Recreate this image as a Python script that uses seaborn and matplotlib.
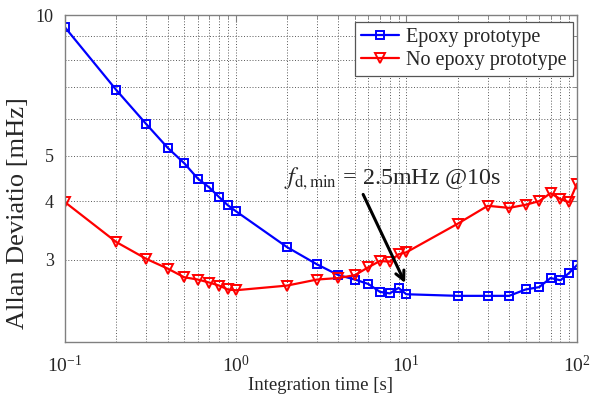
import numpy as np
import pandas as pd
import matplotlib
matplotlib.use("Agg")
import matplotlib.pyplot as plt
from matplotlib.ticker import FixedLocator, NullFormatter, FixedFormatter, LogLocator
import seaborn as sns

# ---- data ----
tau = [0.1, 0.2, 0.3, 0.4, 0.5, 0.6, 0.7, 0.8, 0.9, 1,
       2, 3, 4, 5, 6, 7, 8, 9, 10,
       20, 30, 40, 50, 60, 70, 80, 90, 100]
epoxy = [9.41, 6.91, 5.84, 5.20, 4.82, 4.47, 4.28, 4.08, 3.92, 3.81,
         3.19, 2.93, 2.78, 2.72, 2.66, 2.56, 2.54, 2.61, 2.53,
         2.51, 2.51, 2.51, 2.59, 2.62, 2.74, 2.71, 2.81, 2.92]
no_epoxy = [3.98, 3.27, 3.01, 2.87, 2.75, 2.72, 2.68, 2.64, 2.59, 2.58,
            2.64, 2.72, 2.74, 2.78, 2.89, 2.98, 2.97, 3.08, 3.11,
            3.58, 3.91, 3.87, 3.93, 4.00, 4.16, 4.04, 3.98, 4.36]
series_names = ["Epoxy prototype", "No epoxy prototype"]
ytick_vals = [3, 4, 5, 10]
ytick_labels = ["3", "4", "5", "10"]
annot_text = r"$f_{\mathrm{d,min}}$ = 2.5mHz @10s"
annot_tip = (10, 2.64)

sns.set_style("white")
plt.rcParams["font.family"] = ["Liberation Serif", "DejaVu Serif"]
plt.rcParams["mathtext.fontset"] = "stix"

fig = plt.figure(figsize=(5.91, 3.94), dpi=100)
ax = fig.add_axes([65 / 591, 1 - 342 / 394, (577 - 65) / 591, (342 - 15) / 394])

df_a = pd.DataFrame({"tau": tau, "dev": epoxy})
df_b = pd.DataFrame({"tau": tau, "dev": no_epoxy})

sns.lineplot(data=df_a, x="tau", y="dev", ax=ax, color="#0000ff", marker="s",
             markersize=6, mfc="none", mec="#0000ff", mew=1.4, lw=1.6,
             label=series_names[0], legend=False)
sns.lineplot(data=df_b, x="tau", y="dev", ax=ax, color="#ff0000", marker="v",
             markersize=7, mfc="none", mec="#ff0000", mew=1.4, lw=1.6,
             label=series_names[1], legend=False)

ax.set_xscale("log")
ax.set_yscale("log")
ax.set_xlim(0.1, 100)
ax.set_ylim(2, 10)

ax.xaxis.set_major_locator(LogLocator(base=10, numticks=10))
ax.xaxis.set_minor_locator(LogLocator(base=10, subs=np.arange(2, 10), numticks=20))
ax.xaxis.set_minor_formatter(NullFormatter())

ax.yaxis.set_major_locator(FixedLocator(ytick_vals))
ax.yaxis.set_major_formatter(FixedFormatter(ytick_labels))
ax.yaxis.set_minor_locator(FixedLocator([2, 6, 7, 8, 9]))
ax.yaxis.set_minor_formatter(NullFormatter())

ax.grid(True, which="both", linestyle=(0, (1.2, 2.2)), color="#444444", linewidth=0.6)
ax.set_axisbelow(True)

for s in ax.spines.values():
    s.set_visible(True)
    s.set_color("#808080")
    s.set_linewidth(1.0)

ax.tick_params(which="both", direction="in", top=True, right=True, color="#808080")
ax.tick_params(which="major", length=5)
ax.tick_params(which="minor", length=3)
ax.tick_params(axis="x", labelsize=14, pad=9)
ax.tick_params(axis="y", labelsize=13, pad=8)

ax.set_xlabel("Integration time [s]", fontsize=13.5, labelpad=1)
ax.set_ylabel("Allan Deviatio [mHz]", fontsize=19)
ax.yaxis.set_label_coords(-0.07, 0.394)

leg = ax.legend(loc="upper right", bbox_to_anchor=(0.992, 0.979), borderaxespad=0,
                fontsize=14.5, frameon=True, fancybox=False, framealpha=1,
                edgecolor="#555555", handlelength=1.9, handletextpad=0.35,
                labelspacing=0.2, borderpad=0.3)
leg.get_frame().set_linewidth(0.9)

ax.annotate("", xy=annot_tip, xycoords="data",
            xytext=(0.580, 0.459), textcoords="axes fraction",
            arrowprops=dict(arrowstyle="->", color="black", lw=2.2, mutation_scale=16))
ax.text(0.428, 0.483, annot_text, transform=ax.transAxes, fontsize=17.3,
        ha="left", va="baseline")

fig.savefig("out.png", dpi=100)
